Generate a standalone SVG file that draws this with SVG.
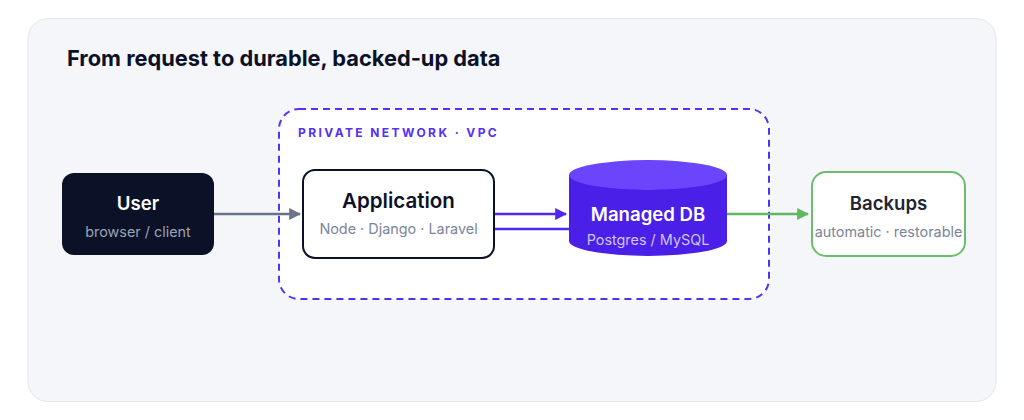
<svg xmlns="http://www.w3.org/2000/svg" width="1024" height="420" viewBox="0 0 1024 420">
<defs>
<style>
text{font-family:Inter,"Noto Sans",sans-serif}
.t{font-weight:700;font-size:21.8px;fill:#0b1126}
.h{font-weight:600;font-size:18.6px;text-anchor:middle}
.s{font-size:14.4px;text-anchor:middle;fill:#7c8499}
</style>
<marker id="ag" viewBox="0 0 10 10" refX="9" refY="5" markerWidth="12" markerHeight="12" markerUnits="userSpaceOnUse" orient="auto"><path d="M0,0L10,5L0,10z" fill="#6b7389"/></marker>
<marker id="ap" viewBox="0 0 10 10" refX="9" refY="5" markerWidth="12" markerHeight="12" markerUnits="userSpaceOnUse" orient="auto"><path d="M0,0L10,5L0,10z" fill="#5126f0"/></marker>
<marker id="agr" viewBox="0 0 10 10" refX="9" refY="5" markerWidth="12" markerHeight="12" markerUnits="userSpaceOnUse" orient="auto"><path d="M0,0L10,5L0,10z" fill="#5fb760"/></marker>
</defs>
<rect x="0" y="0" width="1024" height="420" fill="#fff"/>
<rect x="28" y="18.5" width="968" height="383" rx="20" fill="#f5f6fa" stroke="#e4e6ee" stroke-width="1"/>
<text class="t" x="67" y="66">From request to durable, backed-up data</text>
<g id="vpc">
<rect x="279" y="109" width="490" height="190" rx="20" fill="#fff" stroke="#5530f5" stroke-width="2" stroke-dasharray="7,5"/>
<text x="298" y="137" font-size="12" font-weight="700" letter-spacing="2.4" fill="#5530f5">PRIVATE NETWORK · VPC</text>
</g>
<g id="connectors" fill="none" stroke-width="2.5">
<line x1="214" y1="214" x2="300" y2="214" stroke="#6b7389" marker-end="url(#ag)"/>
<line x1="494" y1="214" x2="566" y2="214" stroke="#5126f0" marker-end="url(#ap)"/>
<line x1="494" y1="229" x2="570" y2="229" stroke="#5126f0"/>
<line x1="727" y1="214" x2="808" y2="214" stroke="#5fb760" marker-end="url(#agr)"/>
</g>
<g id="user">
<rect x="62" y="173" width="152" height="82" rx="12" fill="#0b1126"/>
<text class="h" x="138" y="210" fill="#fff">User</text>
<text class="s" x="138" y="237" style="fill:#9aa2b8">browser / client</text>
</g>
<g id="application">
<rect x="303" y="170" width="191" height="88" rx="12" fill="#fff" stroke="#0b1126" stroke-width="2"/>
<text class="h" x="398.5" y="208" fill="#0b1126" style="font-size:20.5px">Application</text>
<text class="s" x="398.5" y="234">Node · Django · Laravel</text>
</g>
<g id="db">
<path d="M569,175 V241 A79,15 0 0 0 727,241 V175 Z" fill="#4a1fe8"/>
<ellipse cx="648" cy="175" rx="79" ry="15" fill="#6a45fb"/>
<text class="h" x="648" y="221" fill="#fff">Managed DB</text>
<text class="s" x="648" y="245" style="fill:#cfc6ff">Postgres / MySQL</text>
</g>
<g id="backups">
<rect x="812" y="172" width="153" height="84" rx="14" fill="#fff" stroke="#6bbd6b" stroke-width="2"/>
<text class="h" x="888.5" y="210" fill="#1e2433">Backups</text>
<text class="s" x="888.5" y="237">automatic · restorable</text>
</g>
</svg>
